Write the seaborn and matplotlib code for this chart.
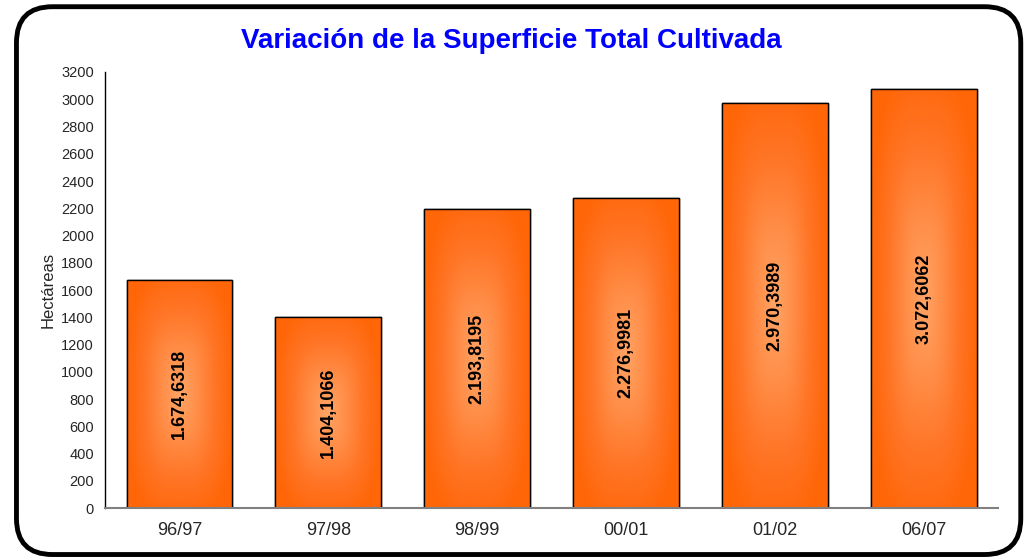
import numpy as np
import pandas as pd
import seaborn as sns
import matplotlib.pyplot as plt
from matplotlib.patches import FancyBboxPatch
from matplotlib.colors import LinearSegmentedColormap

# Datos
campanas = ['96/97', '97/98', '98/99', '00/01', '01/02', '06/07']
superficie = [1674.6318, 1404.1066, 2193.8195, 2276.9981, 2970.3989, 3072.6062]
etiquetas = ['1.674,6318', '1.404,1066', '2.193,8195', '2.276,9981', '2.970,3989', '3.072,6062']

df = pd.DataFrame({'campana': campanas, 'ha': superficie})

sns.set_style('white')
plt.rcParams['font.family'] = ['Liberation Sans', 'DejaVu Sans']

fig = plt.figure(figsize=(10.29, 5.59), dpi=100)
ax = fig.add_axes([0.102, 0.0912, 0.868, 0.780])

sns.barplot(data=df, x='campana', y='ha', color='#FF6A10', width=0.71,
            edgecolor='black', linewidth=1.0, saturation=1, ax=ax)

# Degradado rectangular suave dentro de cada barra
cmap = LinearSegmentedColormap.from_list('naranja', ['#FFA465', '#FF8E48', '#FF7526', '#FF6608'])
u = np.linspace(-1, 1, 200)
U, V = np.meshgrid(u, u)
grad = (np.abs(U) ** 3 + (np.abs(V) * 0.9) ** 3) ** (1 / 3)
grad = np.clip(grad, 0, 1)
for p in ax.patches:
    x0, y0 = p.get_x(), p.get_y()
    w, h = p.get_width(), p.get_height()
    im = ax.imshow(grad, cmap=cmap, extent=[x0, x0 + w, y0, y0 + h],
                   aspect='auto', origin='lower', zorder=p.get_zorder() + 0.1,
                   interpolation='bilinear', vmin=0, vmax=1)
    im.set_clip_path(p)
    borde = plt.Rectangle((x0, y0), w, h, fill=False, edgecolor='black',
                          linewidth=1.0, zorder=p.get_zorder() + 0.2)
    ax.add_patch(borde)

for i, (v, t) in enumerate(zip(superficie, etiquetas)):
    ax.text(i, v / 2, t, rotation=90, ha='center', va='center', color='black',
            fontsize=13, fontweight='bold', zorder=10)

ax.set_ylim(0, 3200)
ax.set_yticks(range(0, 3201, 200))
ax.set_xlim(-0.5, len(campanas) - 0.5)
ax.set_xticks(np.arange(-0.5, len(campanas), 1.0), minor=False)
ax.set_xticklabels([])
ax.set_xticks(range(len(campanas)), minor=True)
ax.set_xticklabels(campanas, minor=True, fontsize=13)
ax.tick_params(axis='x', which='minor', length=0, pad=10)
ax.tick_params(axis='x', which='major', length=6, width=1.2, color='#808080', direction='out')
ax.tick_params(axis='y', length=5, width=1, color='black', direction='out', labelsize=10.5, pad=3)

for s in ['top', 'right']:
    ax.spines[s].set_visible(False)
ax.spines['left'].set_color('black')
ax.spines['left'].set_linewidth(1)
ax.spines['bottom'].set_color('#808080')
ax.spines['bottom'].set_linewidth(1.5)

ax.set_xlabel('')
ax.set_ylabel('Hectáreas', fontsize=12, labelpad=4)

fig.text(0.497, 0.927, 'Variación de la Superficie Total Cultivada', ha='center', va='center',
         color='#0000FF', fontsize=20, fontweight='bold')

marco = FancyBboxPatch((0.016, 0.008), 0.976, 0.980, boxstyle='round,pad=0,rounding_size=0.035',
                       transform=fig.transFigure, fill=False, edgecolor='black', linewidth=3.5,
                       mutation_aspect=1029 / 559)
fig.patches.append(marco)

fig.savefig('out.png', dpi=100)
